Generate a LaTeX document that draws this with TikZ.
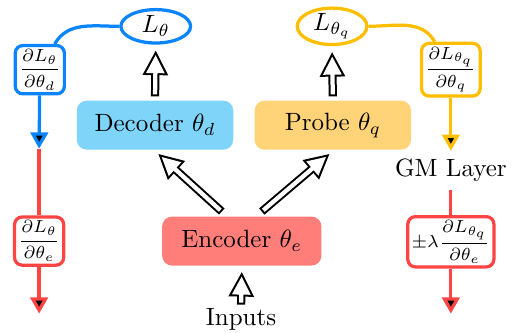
\documentclass[tikz,border=0pt]{standalone}
\usepackage{amsmath,amsfonts,amssymb}
\usetikzlibrary{arrows.meta,shapes.geometric}

\definecolor{gradblue}{HTML}{0A84FF}
\definecolor{gradyellow}{HTML}{FFBF00}
\definecolor{gradred}{HTML}{FF4444}
\definecolor{decfill}{HTML}{7FD4FA}
\definecolor{probefill}{HTML}{FFD479}
\definecolor{encfill}{HTML}{FF7E79}

\tikzset{
  block/.style={rounded corners=4pt, minimum width=2.2cm, minimum height=0.69cm},
  loss/.style={shape=ellipse, draw=#1, line width=1.3pt, minimum width=0.98cm, minimum height=0.47cm, inner sep=0pt},
  grad/.style={draw=#1, line width=1.3pt, rounded corners=3pt, fill=white, inner sep=1.5pt, minimum width=0.64cm, minimum height=0.63cm, font=\scriptsize},
  flow/.style={draw=#1, line width=1.3pt},
  tip/.style={-{Triangle[length=6.5pt,width=7pt]}},
  hollow/.style={line width=3.3pt, -{Triangle[length=10pt,width=9.5pt]},
    postaction={draw=white, line width=1.7pt, shorten <=0.8pt, shorten >=1.87pt,
      -{Triangle[length=7.33pt,width=6.97pt]}}},
}

\begin{document}
\begin{tikzpicture}
\useasboundingbox (0,0) rectangle (7.2,-4.68);

\node[loss=gradblue](Lt) at (2.19,-0.37) {$L_\theta$};
\node[loss=gradyellow](Lq) at (4.67,-0.37) {$L_{\theta_q}$};

\node[block,fill=decfill](dec) at (2.18,-1.76) {Decoder $\theta_d$};
\node[block,fill=probefill](prb) at (4.68,-1.76) {Probe $\theta_q$};
\node[block,fill=encfill,minimum width=2.24cm](enc) at (3.40,-3.39) {Encoder $\theta_e$};
\node(inp) at (3.39,-4.485) {Inputs};

\node[grad=gradblue](gd) at (0.56,-0.98) {$\dfrac{\partial L_\theta}{\partial\theta_d}$};
\node[grad=gradred](ge) at (0.55,-3.39) {$\dfrac{\partial L_\theta}{\partial\theta_e}$};
\node[grad=gradyellow](gq) at (6.34,-0.98) {$\dfrac{\partial L_{\theta_q}}{\partial\theta_q}$};
\node(gm) at (6.34,-2.39) {GM Layer};
\node[grad=gradred](gqe) at (6.34,-3.40) {$\pm\lambda\dfrac{\partial L_{\theta_q}}{\partial\theta_e}$};

\coordinate(bt) at (0.55,-2.09);
\coordinate(rt) at (0.55,-4.41);
\coordinate(yt) at (6.34,-2.12);
\coordinate(qt) at (6.34,-4.41);

% forward pass
\draw[hollow] ([yshift=1.5pt]dec.north) -- ([yshift=-2.2pt]Lt.south);
\draw[hollow] ([yshift=1.5pt]prb.north) -- ([yshift=-2.2pt]Lq.south);
\draw[hollow] ([xshift=-8pt,yshift=1.8pt]enc.north) -- ([xshift=1.2pt,yshift=-1.4pt]dec.south);
\draw[hollow] ([xshift=8pt,yshift=1.8pt]enc.north) -- ([xshift=-1.2pt,yshift=-1.4pt]prb.south);
\draw[hollow] ([yshift=-2.2pt]inp.north) -- ([yshift=-2.2pt]enc.south);

% gradients
\path [flow=gradblue] (Lt) edge[out=180,in=60] (gd);
\path [flow=gradblue,tip] (gd) edge (bt);
\path [flow=gradred] (bt) edge (ge);
\path [flow=gradred,tip] (ge) edge (rt);

\path [flow=gradyellow] (Lq) edge[out=0,in=120] (gq);
\path [flow=gradyellow,tip] (gq) edge (yt);
\path [flow=gradred] (gm) edge (gqe);
\path [flow=gradred,tip] (gqe) edge (qt);
\end{tikzpicture}
\end{document}
